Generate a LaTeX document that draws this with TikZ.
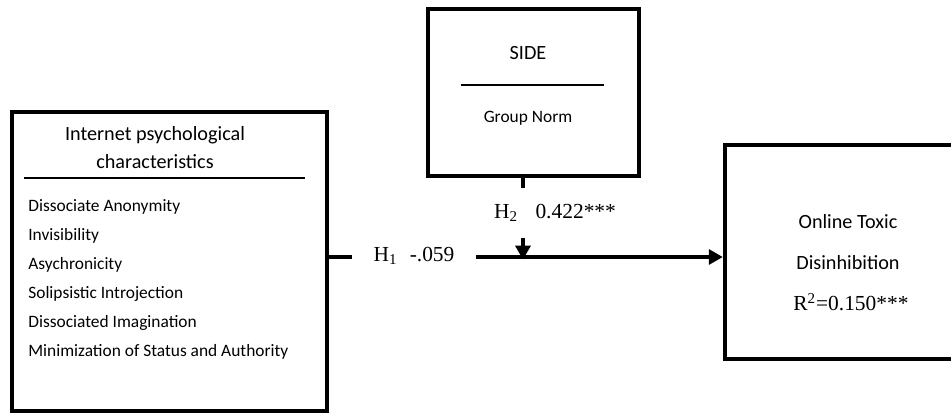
\documentclass[tikz,border=0pt]{standalone}
\usepackage{fontspec}
\setmainfont{Liberation Serif}
\newfontfamily\boxfont{Carlito}
\usetikzlibrary{positioning}
\usetikzlibrary{arrows.meta}
\tikzset{
heavy/.style={line width=2.5pt},
block/.style 2 args={draw, heavy, minimum width=#1, minimum height=#2, inner sep=0pt},
rule/.style={line width=0.8pt},
title/.style={font=\boxfont\fontsize{11.5}{13}\selectfont, inner sep=0pt},
item/.style={font=\boxfont\fontsize{9.9}{11}\selectfont, inner sep=0pt},
stat/.style={font=\fontsize{12.2}{14}\selectfont, inner sep=0pt},
path label/.style={stat, inner xsep=12pt, inner ysep=9pt},
arrowed/.style={heavy, -{Triangle[length=8pt, width=8.5pt]}},
}
\begin{document}
\begin{tikzpicture}[x=0.02cm, y=-0.02cm]
	\useasboundingbox (0,0) rectangle (951,414);
	\clip (0,0) rectangle (951,414);
	
	%
	\node[block={6.3cm}{5.98cm}] (ipc) at (169.5,261.5) {};
	\node[block={4.22cm}{3.34cm}] (side) at (533.5,92.5) {};
	\node[block={4.7cm}{4.29cm}] (otd) at (842.5,252) {};
	
	%
	\node[title] (ipc1) at (155,135) {Internet psychological};
	\node[title] (ipc2) at (155,162) {characteristics};
	\draw[rule] (24,178) -- (305,178);
	\node[item, anchor=west] (da) at (28,207) {Dissociate Anonymity};
	\node[item, anchor=west] (inv) at (28,236) {Invisibility};
	\node[item, anchor=west] (asy) at (28,265) {Asychronicity};
	\node[item, anchor=west] (sol) at (28,294) {Solipsistic Introjection};
	\node[item, anchor=west] (dim) at (28,323) {Dissociated Imagination};
	\node[item, anchor=west] (min) at (28,352) {Minimization of Status and Authority};
	
	%
	\node[title] (side1) at (528,53) {SIDE};
	\draw[rule] (461,85) -- (604,85);
	\node[item] (gn) at (528,118) {Group Norm};
	
	%
	\node[title] (otd1) at (848,222) {Online Toxic};
	\node[title] (otd2) at (848,263) {Disinhibition};
	\node[stat] (r2) at (851,302) {R\textsuperscript{2}=0.150***};
	
	%
	\coordinate (j) at (523,257);
	\node[path label] (h1) at (414,256) {H\textsubscript{1}\hspace{7pt}-.059};
	\node[path label] (h2) at (555,213) {H\textsubscript{2}\hspace{10pt}0.422***};
	
	\draw[heavy] (ipc.east |- j) -- (h1.west |- j);
	\draw[arrowed] (h1.east |- j) -- (otd.west |- j);
	\draw[heavy] (side.south -| j) -- (h2.north -| j);
	\draw[arrowed] (h2.south -| j) -- ([yshift=-1.5pt]j);
\end{tikzpicture}
\end{document}
